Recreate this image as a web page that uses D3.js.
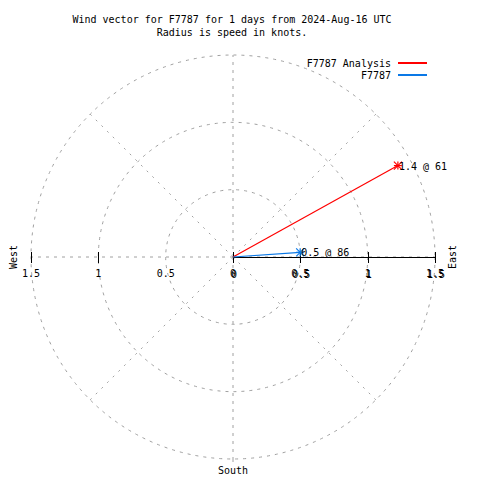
<!DOCTYPE html>
<html><head><meta charset="utf-8">
<script src="https://cdn.jsdelivr.net/npm/d3@7"></script>
<style>body{margin:0;background:#fff}svg text{font-family:"DejaVu Sans Mono",monospace;font-size:10px;fill:#000}</style>
</head><body><svg id="c" width="480" height="480"></svg>
<script>
const titleLines = ["Wind vector for F7787 for 1 days from 2024-Aug-16 UTC", "Radius is speed in knots."];
const seriesNames = ["F7787 Analysis", "F7787"];
const seriesColors = ["#ff0000", "#0a78e6"];
const speeds = [1.4, 0.5];
const directions = [61, 86];
const rTicks = [0, 0.5, 1, 1.5];
const rTickLabels = ["0", "0.5", "1", "1.5"];
const spokeAngles = [0, 45, 90, 135, 180, 225, 270, 315];
const compassLabels = ["West", "East", "South"];

const svg = d3.select("#c");
const cx = 233, cy = 257;
const r = d3.scaleLinear().domain([0, 1.5]).range([0, 202]);
const xs = d3.scaleLinear().domain([-1.5, 1.5]).range([cx - 202, cx + 202]);
const pt = (a, v) => [cx + r(v) * Math.sin(a * Math.PI / 180), cy - r(v) * Math.cos(a * Math.PI / 180)];

// grid circles
svg.selectAll("circle.g").data(rTicks.filter(d => d > 0)).join("circle").attr("class", "g")
  .attr("cx", cx).attr("cy", cy).attr("r", d => r(d))
  .attr("fill", "none").attr("stroke", "#a0a0a0").attr("stroke-dasharray", "3,5");
// spokes
svg.selectAll("line.s").data(spokeAngles).join("line").attr("class", "s")
  .attr("x1", cx).attr("y1", cy)
  .attr("x2", d => pt(d, 1.5)[0]).attr("y2", d => pt(d, 1.5)[1])
  .attr("stroke", "#a0a0a0").attr("stroke-dasharray", d => d % 90 === 0 ? "3,5" : "2,6");
// south extended line
svg.append("line").attr("x1", cx).attr("x2", cx).attr("y1", cy + r(1.5)).attr("y2", 462)
  .attr("stroke", "#a0a0a0").attr("stroke-dasharray", "3,5");

// east axis solid
svg.append("line").attr("x1", xs(0)).attr("x2", xs(1.5)).attr("y1", cy + 0.5).attr("y2", cy + 0.5).attr("stroke", "#000");
// ticks
const allX = [-1.5, -1, 0, 0.5, 1, 1.5];
svg.selectAll("line.t").data(allX).join("line").attr("class", "t")
  .attr("x1", d => Math.round(xs(d)) + 0.5).attr("x2", d => Math.round(xs(d)) + 0.5)
  .attr("y1", cy - 5).attr("y2", cy + 6).attr("stroke", "#000");
// x labels west side (absolute values)
const westVals = [-1.5, -1, -0.5, 0];
svg.selectAll("text.w").data(westVals).join("text").attr("class", "w")
  .attr("x", d => xs(d)).attr("y", cy + 20).attr("text-anchor", "middle")
  .text(d => rTickLabels[rTicks.indexOf(Math.abs(d))]);
// east side labels (doubled: x axis + radial axis)
const eastVals = [0.5, 1, 1.5];
[0, 1].forEach(k => {
  svg.selectAll("text.e" + k).data(eastVals).join("text").attr("class", "e" + k)
    .attr("x", d => xs(d) + k).attr("y", cy + 20 + k).attr("text-anchor", "middle")
    .text(d => rTickLabels[rTicks.indexOf(d)]);
});
svg.append("text").attr("x", xs(0) + 1).attr("y", cy + 21).attr("text-anchor", "middle").text("0");

// compass labels
svg.append("text").attr("transform", `translate(${xs(-1.5) - 14},${cy}) rotate(-90)`).attr("text-anchor", "middle").text(compassLabels[0]);
svg.append("text").attr("transform", `translate(${xs(1.5) + 21},${cy}) rotate(-90)`).attr("text-anchor", "middle").text(compassLabels[1]);
svg.append("text").attr("x", cx).attr("y", 474).attr("text-anchor", "middle").text(compassLabels[2]);

// title
svg.selectAll("text.title").data(titleLines).join("text").attr("class", "title")
  .attr("x", 232).attr("y", (d, i) => 23 + i * 13).attr("text-anchor", "middle").text(d => d);

// legend
seriesNames.forEach((n, i) => {
  svg.append("text").attr("x", 391).attr("y", 67 + i * 12).attr("text-anchor", "end").text(n);
  svg.append("line").attr("x1", 398).attr("x2", 427).attr("y1", 63 + i * 12).attr("y2", 63 + i * 12)
    .attr("stroke", seriesColors[i]).attr("stroke-width", 2);
});

// vectors
speeds.forEach((s, i) => {
  const [ex, ey] = pt(directions[i], s);
  svg.append("line").attr("x1", cx).attr("y1", cy).attr("x2", ex).attr("y2", ey)
    .attr("stroke", seriesColors[i]).attr("stroke-width", 1.2);
  const m = 4;
  const g = svg.append("g").attr("stroke", seriesColors[i]).attr("stroke-width", 1.2);
  g.append("line").attr("x1", ex - m).attr("x2", ex + m).attr("y1", ey).attr("y2", ey);
  g.append("line").attr("x1", ex).attr("x2", ex).attr("y1", ey - m).attr("y2", ey + m);
  g.append("line").attr("x1", ex - m).attr("x2", ex + m).attr("y1", ey - m).attr("y2", ey + m);
  g.append("line").attr("x1", ex - m).attr("x2", ex + m).attr("y1", ey + m).attr("y2", ey - m);
  svg.append("text").attr("x", ex + 1).attr("y", ey + 4).text(`${s} @ ${directions[i]}`);
});
</script></body></html>
